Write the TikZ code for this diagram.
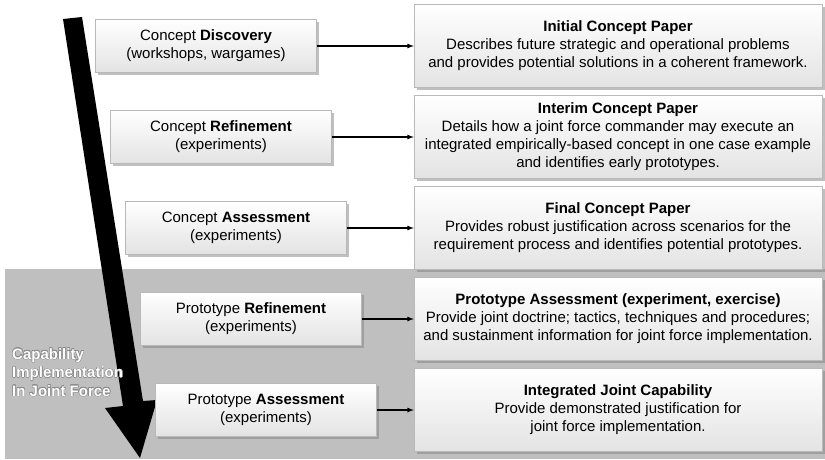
\documentclass[tikz,border=0pt]{standalone}
\usepackage{fontspec}
\setmainfont{Liberation Sans}
\usepackage{contour}
\usetikzlibrary{shadows}

\begin{document}
\begin{tikzpicture}[> = latex, x = 1pt, y = -1pt,
	box/.style = {draw = gray!55, top color = white, bottom color = gray!22, align = center,
		font = \fontsize{15}{18}\selectfont,
		drop shadow = {shadow xshift = 2.5pt, shadow yshift = -2.5pt}},
	stage/.style = {box, minimum width = 221pt, minimum height = 53pt},
	paper/.style = {box, minimum width = 408pt, minimum height = 83pt}]

	\useasboundingbox (0, 0) rectangle (825, 459);

	% Shaded band for the prototype stages

	\fill [gray!50] (5, 269) rectangle (825, 459);

	% Big arrow down the left side

	\fill (63, 19) -- (82, 17) -- (143, 401) -- (157, 400) -- (140, 458) -- (105, 408) -- (123, 406) -- cycle;

	\node (band) [anchor = north west, align = left, text = white, inner sep = 0pt,
		font = \bfseries\fontsize{15}{18.5}\selectfont] at (12, 348)
		{\contour{gray!90}{Capability}\\ \contour{gray!90}{Implementation}\\ \contour{gray!90}{In Joint Force}};

	% Stages

	\node (stage1) [stage] at (206, 46) {Concept \textbf{Discovery}\\(workshops, wargames)};
	\node (stage2) [stage] at (221, 137) {Concept \textbf{Refinement}\\(experiments)};
	\node (stage3) [stage] at (236, 228) {Concept \textbf{Assessment}\\(experiments)};
	\node (stage4) [stage] at (251, 319) {Prototype \textbf{Refinement}\\(experiments)};
	\node (stage5) [stage] at (266, 410) {Prototype \textbf{Assessment}\\(experiments)};

	% Products

	\node (paper1) [paper] at (618, 46) {\textbf{Initial Concept Paper}\\Describes future strategic and operational problems\\and provides potential solutions in a coherent framework.};
	\node (paper2) [paper] at (618, 137) {\textbf{Interim Concept Paper}\\Details how a joint force commander may execute an\\integrated empirically-based concept in one case example\\and identifies early prototypes.};
	\node (paper3) [paper] at (618, 228) {\textbf{Final Concept Paper}\\Provides robust justification across scenarios for the\\requirement process and identifies potential prototypes.};
	\node (paper4) [paper] at (618, 319) {\textbf{Prototype Assessment (experiment, exercise)}\\Provide joint doctrine; tactics, techniques and procedures;\\and sustainment information for joint force implementation.};
	\node (paper5) [paper] at (618, 410) {\textbf{Integrated Joint Capability}\\Provide demonstrated justification for\\joint force implementation.};

	% Connectors

	\foreach \i in {1, ..., 5}
		\draw [->, line width = 1.2pt] (stage\i.east) -- (paper\i.west);

\end{tikzpicture}
\end{document}
